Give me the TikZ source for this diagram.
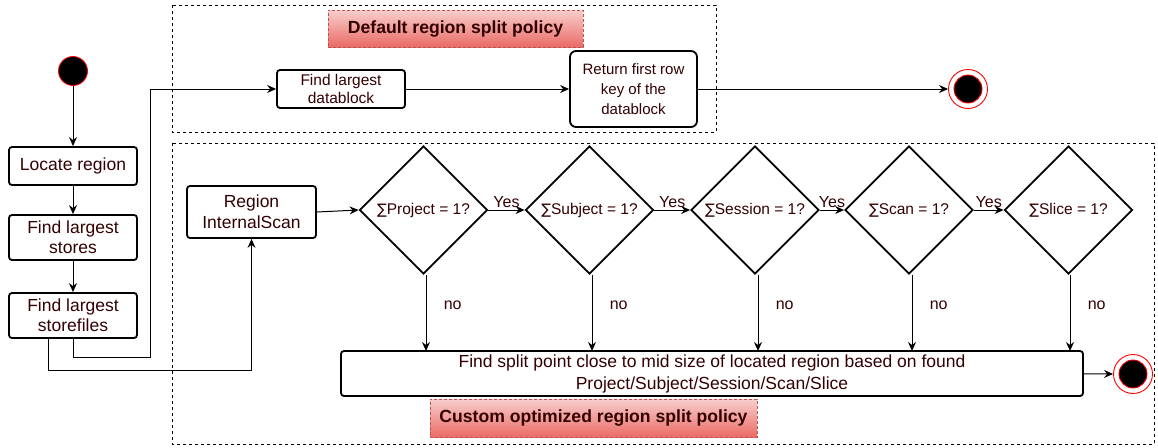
\documentclass[tikz,border=0pt]{standalone}
\usepackage{fontspec}
\setmainfont{Liberation Sans}
\newfontfamily\symfont{DejaVu Sans}
\usetikzlibrary{arrows.meta,shapes.geometric}
\definecolor{txt}{HTML}{330000}
\definecolor{titletop}{HTML}{F8CECC}
\definecolor{titlebot}{HTML}{EA6B66}
\definecolor{titleline}{HTML}{B85450}
\newcommand{\sumsign}{{\symfont\fontsize{14.5}{14.5}\selectfont ∑}}
\tikzset{
  every node/.style={text=txt, font=\fontsize{16}{18}\selectfont},
  flow/.style={-{Stealth[length=9pt,width=8pt,inset=3pt]}, line width=1pt, black},
  stepbox/.style={draw=black, line width=1.8pt, rounded corners=3pt, fill=white,
    align=center, inner sep=0pt},
  decision/.style={draw=black, line width=1.8pt, diamond, aspect=1, inner sep=0pt,
    minimum width=128pt, minimum height=128pt, font=\fontsize{15.5}{18}\selectfont},
  region/.style={draw=black, dashed, line width=0.8pt, dash pattern=on 3pt off 3pt},
  policytitle/.style={draw=titleline, dashed, line width=0.8pt, dash pattern=on 3pt off 2pt,
    top color=titletop, bottom color=titlebot, inner sep=0pt,
    font=\bfseries\fontsize{17.6}{20}\selectfont},
  startdot/.style={circle, fill=black, draw=red, line width=0.8pt, minimum size=29pt, inner sep=0pt},
  enddot/.style={circle, fill=white, draw=red, line width=0.9pt, minimum size=39pt, inner sep=0pt,
    path picture={\draw[red, fill=black, line width=0.9pt] (path picture bounding box.center) circle (14pt);}},
  lbl/.style={font=\fontsize{16}{18}\selectfont}
}
\begin{document}
\begin{tikzpicture}[x=1pt,y=-1pt]
\useasboundingbox (0,0) rectangle (1158,447);

% policy frames
\draw[region] (172,5) rectangle (716,132);
\draw[region] (172,143) rectangle (1154,444);
\node[policytitle, minimum width=255pt, minimum height=37pt] (deftitle) at (455.5,28.5) {Default region split policy};
\node[policytitle, minimum width=327pt, minimum height=38pt] (custitle) at (593.5,418) {Custom optimized region split policy};

% common steps on the left
\node[startdot] (start) at (73,71) {};
\node[stepbox, minimum width=128pt, minimum height=38pt, font=\fontsize{17.5}{21}\selectfont] (locate) at (73,166) {Locate region};
\node[stepbox, minimum width=128pt, minimum height=45pt, font=\fontsize{17.5}{20}\selectfont] (stores) at (73,237.5) {Find largest\\stores};
\node[stepbox, minimum width=128pt, minimum height=45pt, font=\fontsize{17.5}{20}\selectfont] (storefiles) at (73,315.5) {Find largest\\storefiles};

% default policy
\node[stepbox, minimum width=128pt, minimum height=38pt, font=\fontsize{15.5}{18}\selectfont] (datablock) at (341,89) {Find largest\\datablock};
\node[stepbox, rounded corners=6pt, minimum width=127pt, minimum height=76pt, font=\fontsize{15}{20}\selectfont] (firstrow) at (633.5,89) {Return first row\\key of the\\datablock};
\node[enddot] (end1) at (968,89) {};

% custom policy
\node[stepbox, minimum width=129pt, minimum height=52pt, font=\fontsize{17.5}{21}\selectfont] (scan) at (251.5,212) {Region\\InternalScan};
\node[decision] (dproject) at (423.5,210) {\sumsign Project = 1?};
\node[decision] (dsubject) at (589.5,210) {\sumsign Subject = 1?};
\node[decision] (dsession) at (755,210) {\sumsign Session = 1?};
\node[decision] (dscan) at (909,210) {\sumsign Scan = 1?};
\node[decision] (dslice) at (1068.5,210) {\sumsign Slice = 1?};
\node[stepbox, minimum width=742pt, minimum height=45pt, font=\fontsize{17.5}{22}\selectfont] (split) at (712,373.5) {Find split point close to mid size of located region based on found\\Project/Subject/Session/Scan/Slice};
\node[enddot] (end2) at (1133,374) {};

% routing corners
\coordinate (ra) at (73,357);
\coordinate (rb) at (150,357);
\coordinate (rc) at (150,89);
\coordinate (sa) at (48,370);
\coordinate (sb) at (251.5,370);

% left column
\draw[flow] (start) -- (locate);
\draw[flow] (locate) -- (stores);
\draw[flow] (stores) -- (storefiles);
\draw[flow] (storefiles.south) -- (ra) -- (rb) -- (rc) -- (datablock.west);
\draw[flow] (storefiles.south -| sa) -- (sa) -- (sb) -- (scan.south);

% default policy flow
\draw[flow] (datablock) -- (firstrow);
\draw[flow] (firstrow) -- (end1);

% custom policy flow
\draw[flow] (scan.east) -- (dproject.west);
\draw[flow] (dproject.east) -- node[lbl, above, yshift=-1pt] {Yes} (dsubject.west);
\draw[flow] (dsubject.east) -- node[lbl, above, yshift=-1pt] {Yes} (dsession.west);
\draw[flow] (dsession.east) -- node[lbl, above, yshift=-1pt] {Yes} (dscan.west);
\draw[flow] (dscan.east) -- node[lbl, above, yshift=-1pt] {Yes} (dslice.west);
\foreach \d/\x in {dproject/426, dsubject/592, dsession/758, dscan/912, dslice/1070}{
  \draw[flow] (\d.south -| \x,0) -- node[lbl, right=14pt, pos=0.4] {no} (\x,351);
}
\draw[flow] (split) -- (end2);
\end{tikzpicture}
\end{document}
